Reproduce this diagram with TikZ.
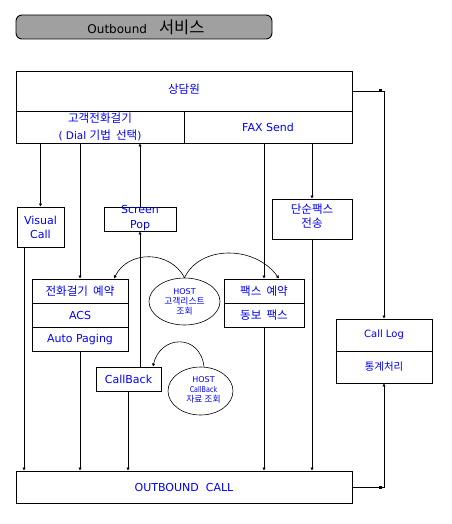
\documentclass[tikz,border=0pt]{standalone}
\usepackage{fontspec}
\setmainfont{DejaVu Sans}
\newfontfamily\krfont{Noto Sans CJK KR}[Scale=1.1]
\newcommand\K[1]{{\krfont #1}}
\usetikzlibrary{shapes.geometric,arrows.meta}
\definecolor{tgray}{RGB}{160,160,160}
\definecolor{tblue}{RGB}{0,0,255}
\tikzset{
  box/.style={draw, line width=0.9pt, inner sep=0pt},
  txt/.style={text=tblue, inner sep=0pt, align=center, font=\fontsize{11}{14}\selectfont},
  ktxt/.style={text=tblue, inner sep=0pt, align=center, font=\fontsize{10.5}{14}\selectfont},
  small/.style={text=tblue, inner sep=0pt, align=center, font=\fontsize{8}{10}\selectfont},
  arr/.style={line width=0.8pt, -{Latex[length=3pt,width=3.5pt]}},
  carr/.style={line width=0.6pt, -{Latex[length=3pt,width=3.5pt]}},
  marker/.style={fill, inner sep=0pt, minimum size=3pt}
}
\begin{document}
\begin{tikzpicture}[x=1pt,y=-1pt]
\useasboundingbox (0,0) rectangle (451,524);
% title
\node[draw, line width=0.9pt, rounded corners=6pt, fill=tgray, minimum width=256pt, minimum height=24pt, inner sep=0pt] (title) at (144,27) {};
\node[inner sep=0pt, font=\fontsize{12}{14}\selectfont] at ([xshift=2pt]title.center) {Outbound\hspace{12pt}{\fontsize{15}{16}\selectfont\K{서비스}}};
% top box
\node[box, minimum width=336pt, minimum height=40pt] (agent) at (184,91) {};
\node[ktxt] at ([yshift=2pt]agent.center) {\K{상담원}};
\node[box, minimum width=168pt, minimum height=32pt] (dial) at (100,127) {};
\node[txt, font=\fontsize{10.5}{17}\selectfont] at ([yshift=0.5pt]dial.center) {\K{고객전화걸기}\\( Dial \K{기법~~선택})};
\node[box, minimum width=168pt, minimum height=32pt] (fax) at (268,127) {};
\node[txt] at (fax.center) {FAX Send};
% second row
\node[box, minimum width=47pt, minimum height=40pt] (visual) at (40.5,227) {};
\node[txt] at (visual.center) {Visual\\Call};
\node[box, minimum width=72pt, minimum height=24pt] (screen) at (140,219) {};
\node[txt, font=\fontsize{11}{15}\selectfont] at ([yshift=0.5pt]screen.center) {Screen\\Pop};
\node[box, minimum width=80pt, minimum height=40pt] (sfax) at (312,219) {};
\node[ktxt] at ([yshift=3pt]sfax.center) {\K{단순팩스}\\\K{전송}};
% reservation boxes
\node[box, minimum width=96pt, minimum height=24pt] (dialres) at (80,291) {};
\node[ktxt] at (dialres.center) {\K{전화걸기~~예약}};
\node[box, minimum width=96pt, minimum height=24pt] (acs) at (80,315) {};
\node[txt] at (acs.center) {ACS};
\node[box, minimum width=96pt, minimum height=24pt] (paging) at (80,339) {};
\node[txt] at (paging.center) {Auto Paging};
\node[box, minimum width=80pt, minimum height=24pt] (faxres) at (264,291) {};
\node[ktxt] at (faxres.center) {\K{팩스~~예약}};
\node[box, minimum width=80pt, minimum height=24pt] (bcast) at (264,315) {};
\node[ktxt] at (bcast.center) {\K{동보~~팩스}};
% host ellipses
\node[draw, line width=0.6pt, ellipse, minimum width=71pt, minimum height=47pt, inner sep=0pt] (host1) at (184.5,301.5) {};
\node[small] at (host1.center) {HOST\\\K{고객리스트}\\\K{조회}};
\node[draw, line width=0.6pt, ellipse, minimum width=65pt, minimum height=48pt, inner sep=0pt] (host2) at (200.5,391) {};
\node[small] at ([xshift=3pt,yshift=1pt]host2.center) {HOST\\\scalebox{0.8}[1]{CallBack}\\\K{자료~조회}};
% callback
\node[box, minimum width=65pt, minimum height=24pt] (callback) at (128.5,379) {};
\node[txt] at (callback.center) {CallBack};
% call log
\node[box, minimum width=96pt, minimum height=32pt] (clog) at (384,335) {};
\node[txt, font=\fontsize{10}{12}\selectfont] at (clog.center) {Call Log};
\node[box, minimum width=96pt, minimum height=32pt] (stat) at (384,367) {};
\node[ktxt, font=\fontsize{9.5}{12}\selectfont] at (stat.center) {\K{통계처리}};
% outbound
\node[box, minimum width=336pt, minimum height=32pt] (outbound) at (184,487) {};
\node[txt] at (outbound.center) {OUTBOUND\ \ CALL};
% connectors
\coordinate (v1) at ([xshift=-16.5pt]visual.south);
\coordinate (cb1) at ([xshift=11.5pt]callback.north);
\coordinate (cb2) at ([xshift=-0.5pt]callback.south);
\draw[arr] (visual.north |- dial.south) -- (visual.north);
\draw[arr] (v1) -- (v1 |- outbound.north);
\draw[arr] (dialres.north |- dial.south) -- (dialres.north);
\draw[arr] (paging.south) -- (paging.south |- outbound.north);
\draw[arr] (cb1) -- (cb1 |- screen.south);
\draw[arr] (screen.north) -- (screen.north |- dial.south);
\draw[arr] (cb2) -- (cb2 |- outbound.north);
\draw[arr] (faxres.north |- fax.south) -- (faxres.north);
\draw[arr] (bcast.south) -- (bcast.south |- outbound.north);
\draw[arr] (sfax.north |- fax.south) -- (sfax.north);
\draw[arr] (sfax.south) -- (sfax.south |- outbound.north);
\draw[arr] (agent.east) -| (clog.north);
\draw[arr] (outbound.east) -| (stat.south);
\coordinate (c1) at (agent.east -| clog.north);
\coordinate (c2) at (outbound.east -| stat.south);
\node[marker] at ([xshift=-4pt]c1) {};
\node[marker] at ([xshift=-4pt]c2) {};
% curves
\coordinate (h1a) at ([xshift=34pt]dialres.north);
\coordinate (h1b) at ([xshift=15pt]faxres.north);
\coordinate (h2a) at ([xshift=24.5pt]callback.north);
\coordinate (h2s) at ([xshift=3.5pt]host2.north);
\draw[carr] (host1.north) .. controls (170,250) and (128,250) .. (h1a);
\draw[carr] (host1.north) .. controls (200,245) and (255,245) .. (h1b);
\draw[carr] (h2s) .. controls (200,333) and (160,335) .. (h2a);
\end{tikzpicture}
\end{document}
